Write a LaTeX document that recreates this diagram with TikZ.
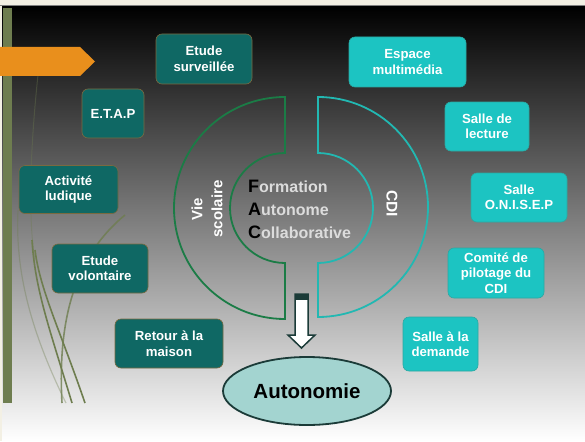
\documentclass[tikz,border=0pt]{standalone}
\usepackage{fontspec}
\setmainfont{Liberation Sans}
\usetikzlibrary{shapes.geometric}
\definecolor{beige}{HTML}{F3F0E4}
\definecolor{olive}{HTML}{6E7D4F}
\definecolor{darkteal}{HTML}{0F6864}
\definecolor{tealborder}{HTML}{7A6A40}
\definecolor{cyanbox}{HTML}{1CC4C2}
\definecolor{cyanborder}{HTML}{2BA8A2}
\definecolor{arcgreen}{HTML}{1B7C46}
\definecolor{arccyan}{HTML}{22B8B2}
\definecolor{orangearr}{HTML}{E98F1C}
\definecolor{ellfill}{HTML}{A3D4D0}
\definecolor{ellborder}{HTML}{1B3B38}
\definecolor{factext}{HTML}{DCDCDC}
\tikzset{
  dbox/.style={draw=tealborder, line width=0.6pt, fill=darkteal, rounded corners=6pt,
    text=white, align=center, inner sep=0pt,
    font=\fontsize{13.2}{15.5}\selectfont\bfseries},
  cbox/.style={draw=cyanborder, line width=0.6pt, fill=cyanbox, rounded corners=6pt,
    text=white, align=center, inner sep=0pt,
    font=\fontsize{13.2}{15.5}\selectfont\bfseries},
  deco/.style={draw=olive, line width=1.6pt},
}
\begin{document}
\begin{tikzpicture}[x=1pt,y=-1pt]
\useasboundingbox (0,0) rectangle (585,441);
% background
\fill[beige] (0,0) rectangle (585,441);
\shade[top color=black, bottom color=white] (2,6) rectangle (585,441);
\draw[gray, line width=0.6pt] (0,5.5) -- (585,5.5);
% left bar
\fill[olive] (3,8) rectangle (12,403);
% decorative curves
\draw[deco, opacity=0.35, line width=1pt] (38,75) .. controls (30,150) and (28,220) .. (35,260);
\draw[deco, opacity=0.35, line width=1.2pt] (66,403) .. controls (30,330) and (15,270) .. (18,210);
\draw[deco] (72,403) .. controls (50,330) and (35,290) .. (32,240);
\draw[deco] (85,403) .. controls (60,330) and (40,290) .. (35,250);
\draw[deco, opacity=0.8] (62,403) .. controls (58,330) and (70,260) .. (125,215);
% orange pointer
\fill[orangearr] (0,47) -- (80,47) -- (95,61.5) -- (80,76) -- (0,76) -- cycle;
% half rings
\draw[arcgreen, line width=1.8pt] (285,97) arc[start angle=90, end angle=270, radius=111pt]
  -- (285,263) arc[start angle=270, end angle=90, radius=55pt] -- cycle;
\draw[arccyan, line width=1.8pt] (318,97) arc[start angle=90, end angle=-90, radius=110pt]
  -- (318,263) arc[start angle=-90, end angle=90, radius=55pt] -- cycle;
% ring labels
\node[rotate=90, text=white, align=center, font=\fontsize{15}{20}\selectfont\bfseries] (vie) at (207,209) {Vie\\scolaire};
\node[rotate=-90, text=white, font=\fontsize{15.5}{18}\selectfont\bfseries] (cdi) at (392,203.5) {CDI};
\node[anchor=west, align=left, text=factext, inner sep=0pt, font=\fontsize{16}{23}\selectfont\bfseries] (fac) at (248,209)
  {{\color{black}\fontsize{18}{23}\selectfont F}ormation\\
   {\color{black}\fontsize{18}{23}\selectfont A}utonome\\
   {\color{black}\fontsize{18}{23}\selectfont C}ollaborative};
% dark boxes
\node[dbox, minimum width=96pt, minimum height=50pt] (es) at (204,59) {Etude\\surveillée};
\node[dbox, minimum width=62pt, minimum height=49pt] (etap) at (113,113.5) {E.T.A.P};
\node[dbox, minimum width=99pt, minimum height=48pt] (al) at (68.5,189.5) {Activité\\ludique};
\node[dbox, minimum width=96pt, minimum height=49pt] (ev) at (100,268.5) {Etude\\volontaire};
\node[dbox, minimum width=108pt, minimum height=49pt] (rm) at (169,343.5) {Retour à la\\maison};
% cyan boxes
\node[cbox, minimum width=117pt, minimum height=50pt] (em) at (407.5,62) {Espace\\multimédia};
\node[cbox, minimum width=84pt, minimum height=49pt] (sl) at (487,126.5) {Salle de\\lecture};
\node[cbox, minimum width=96pt, minimum height=49pt] (so) at (519,197.5) {Salle\\O.N.I.S.E.P};
\node[cbox, minimum width=96pt, minimum height=50pt] (cp) at (496,273) {Comité de\\pilotage du\\CDI};
\node[cbox, minimum width=75pt, minimum height=54pt] (sd) at (440.5,344) {Salle à la\\demande};
% ellipse
\node[ellipse, draw=ellborder, line width=1.8pt, fill=ellfill, minimum width=168pt, minimum height=68pt,
  inner sep=0pt, font=\fontsize{20.5}{22}\selectfont\bfseries] (auto) at (307,391) {Autonomie};
% block arrow
\coordinate (atop) at (301.5,294);
\filldraw[fill=white, draw=ellborder, line width=1.5pt, line join=miter]
  (295,294) -- (308,294) -- (308,335) -- (315,335) -- (301.5,348) -- (288,335) -- (295,335) -- cycle;
\fill[ellborder] (295,294) rectangle (308,300);
\end{tikzpicture}
\end{document}
